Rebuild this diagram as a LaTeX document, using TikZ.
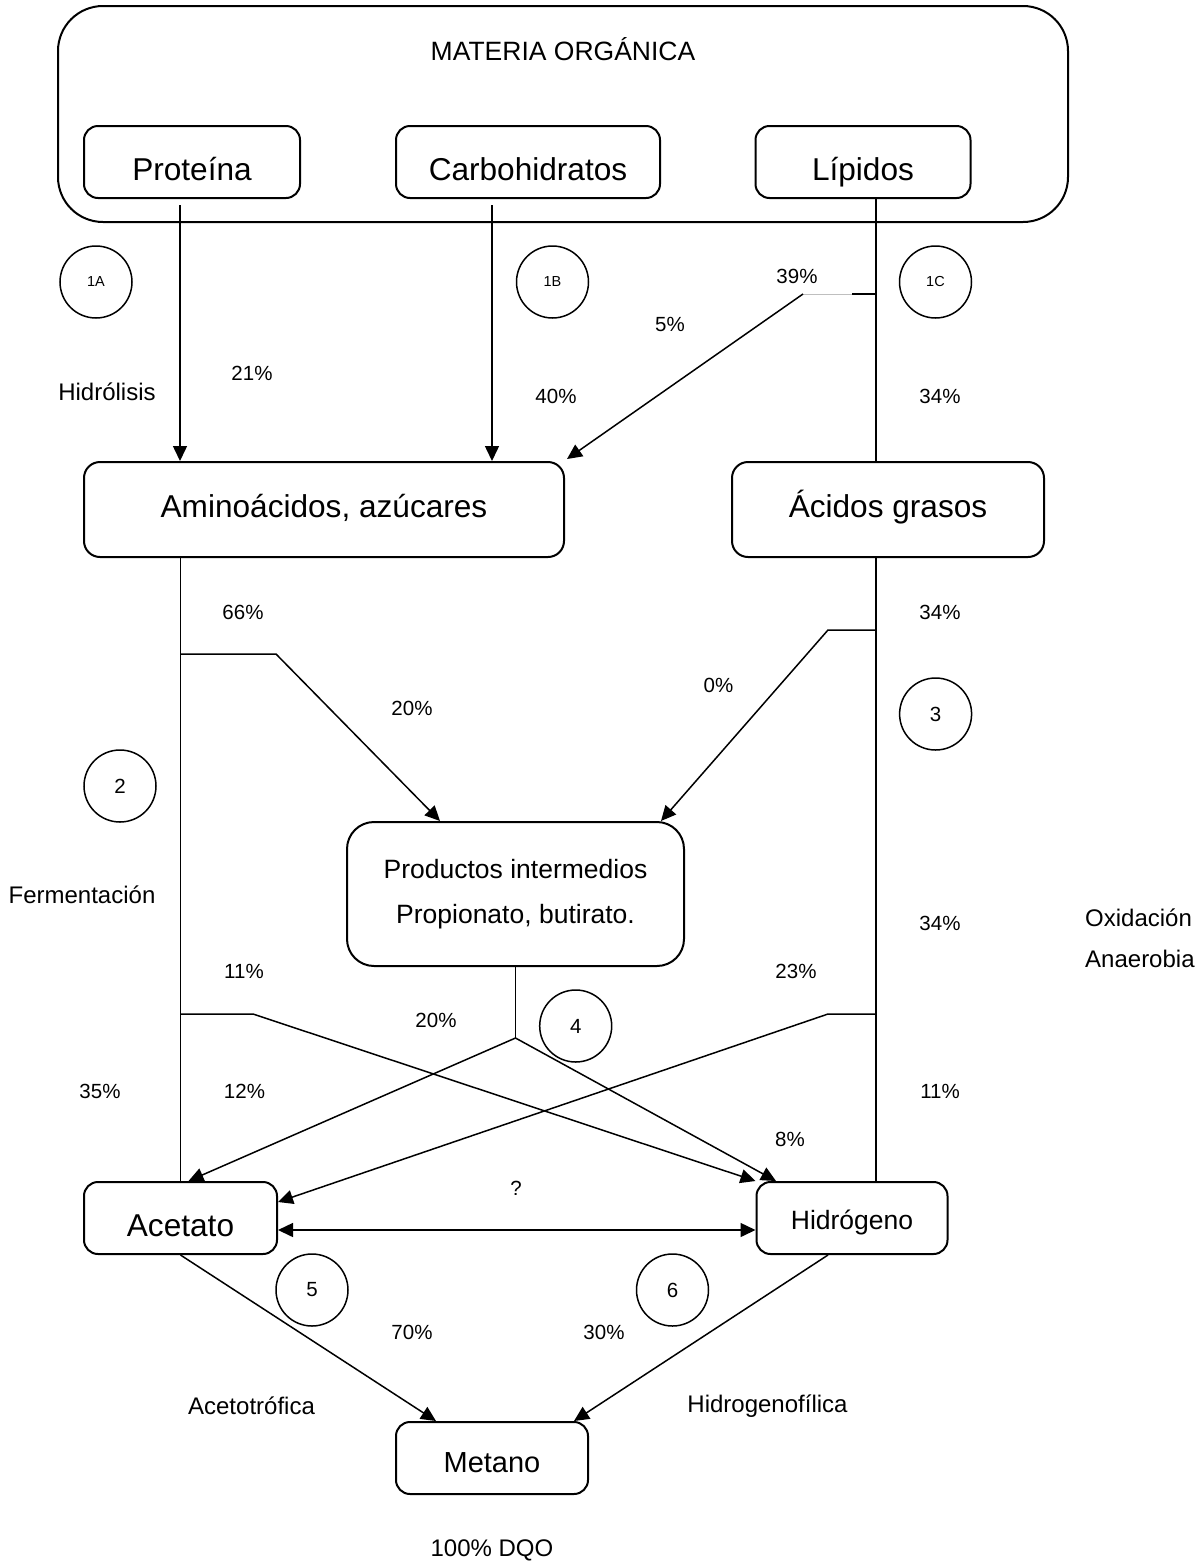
\documentclass[tikz,border=0pt]{standalone}
\usepackage{fontspec}
\setmainfont{Liberation Sans}
\usetikzlibrary{arrows.meta}

\begin{document}
\begin{tikzpicture}[x=1pt,y=-1pt]
\tikzset{edge/.style = {-{Triangle[length=15pt,width=14pt]},line width=1.5pt}}
\tikzset{dedge/.style = {{Triangle[length=15pt,width=14pt]}-{Triangle[length=15pt,width=14pt]},line width=1.5pt}}
\tikzset{line/.style = {line width=1.5pt}}
\tikzset{box/.style = {shape=rectangle,draw=black,line width=2pt,rounded corners=14pt,inner sep=0pt,font=\fontsize{31.6pt}{38pt}\selectfont}}
\tikzset{tag/.style = {shape=circle,draw=black,line width=1.5pt,minimum size=72pt,inner sep=0pt,font=\fontsize{20.5pt}{24pt}\selectfont}}
\tikzset{pct/.style = {inner sep=0pt,font=\fontsize{20.5pt}{24pt}\selectfont}}
\tikzset{txt/.style = {inner sep=0pt,font=\fontsize{24pt}{29pt}\selectfont}}

\useasboundingbox (0,0) rectangle (1199,1564);

\node[box,minimum width=1010pt,minimum height=216pt,rounded corners=45pt] (MO) at (563,114) {};
\node[anchor=base,font=\fontsize{26.5pt}{32pt}\selectfont] (MOt) at (563,60) {MATERIA ORGÁNICA};
\node[box,minimum width=216pt,minimum height=72pt,text height=36pt,text depth=0pt] (Prot) at (192,162) {Proteína};
\node[box,minimum width=264pt,minimum height=72pt,text height=36pt,text depth=0pt] (Carb) at (528,162) {Carbohidratos};
\node[box,minimum width=215pt,minimum height=72pt,text height=36pt,text depth=0pt] (Lip) at (863,162) {Lípidos};

\node[box,minimum width=480pt,minimum height=95pt,rounded corners=16pt,text height=22.75pt,text depth=7pt] (Amino) at (324,509.5) {Aminoácidos, azúcares};
\node[box,minimum width=312pt,minimum height=95pt,rounded corners=16pt,text height=22.75pt,text depth=7pt] (Acid) at (888,509.5) {Ácidos grasos};
\node[box,minimum width=337pt,minimum height=144pt,rounded corners=27pt,align=center,font=\fontsize{26.5pt}{45.7pt}\selectfont] (Prod) at (515.5,894) {Productos intermedios\\Propionato, butirato.};
\node[box,minimum width=193pt,minimum height=72pt,text height=36pt,text depth=0pt] (Acet) at (180.5,1218) {Acetato};
\node[box,minimum width=191pt,minimum height=72pt,text height=23pt,text depth=0pt,font=\fontsize{26.5pt}{32pt}\selectfont] (Hidro) at (852,1218) {Hidrógeno};
\node[box,minimum width=192pt,minimum height=72pt,text height=28.8pt,text depth=0pt,font=\fontsize{29pt}{35pt}\selectfont] (Met) at (492,1458) {Metano};

\node[tag,font=\fontsize{14.5pt}{17pt}\selectfont] (T1A) at (96,282) {1A};
\node[tag,font=\fontsize{14.5pt}{17pt}\selectfont] (T1B) at (552.5,282) {1B};
\node[tag,font=\fontsize{14.5pt}{17pt}\selectfont] (T1C) at (935.5,282) {1C};
\node[tag] (T2) at (120,786) {2};
\node[tag] (T3) at (935.6,714) {3};
\node[tag] (T4) at (575.7,1026) {4};
\node[tag] (T5) at (312,1290) {5};
\node[tag] (T6) at (672.5,1290) {6};

\node[pct] (p21) at (252,373) {21\%};
\node[pct] (p40) at (556,396) {40\%};
\node[pct] (p5) at (670,324) {5\%};
\node[pct] (p39) at (797,276) {39\%};
\node[pct] (p34a) at (940,396) {34\%};
\node[pct] (p66) at (243,612.5) {66\%};
\node[pct] (p34b) at (940,612.5) {34\%};
\node[pct] (p20a) at (412,708) {20\%};
\node[pct] (p0) at (718.5,685) {0\%};
\node[pct] (p34c) at (940,923) {34\%};
\node[pct] (p11a) at (244,971) {11\%};
\node[pct] (p23) at (796,971) {23\%};
\node[pct] (p20b) at (436,1020.5) {20\%};
\node[pct] (p35) at (100,1091.5) {35\%};
\node[pct] (p12) at (244.5,1091.5) {12\%};
\node[pct] (p11b) at (940,1091.5) {11\%};
\node[pct] (p8) at (790,1139) {8\%};
\node[pct] (pq) at (516,1188) {?};
\node[pct] (p70) at (412,1332.5) {70\%};
\node[pct] (p30) at (604,1332.5) {30\%};

\node[txt] (Hid) at (107,391.5) {Hidrólisis};
\node[txt] (Fer) at (82,895) {Fermentación};
\node[txt,anchor=west] (Oxi) at (1085,918) {Oxidación};
\node[txt,anchor=west] (Ana) at (1085,959) {Anaerobia};
\node[txt] (Ace) at (251.5,1406) {Acetotrófica};
\node[txt] (Hgf) at (767.5,1406) {Hidrogenofílica};
\node[txt] (DQO) at (492,1550) {100\% DQO};

\draw[edge] ([xshift=-12pt,yshift=-6pt]Prot.south) coordinate (hA) -- (hA |- Amino.north);
\draw[edge] ([xshift=-36pt,yshift=-6pt]Carb.south) coordinate (hB) -- (hB |- Amino.north);
\draw[line] ([xshift=13pt]Lip.south) coordinate (hC) -- (hC |- Acid.north);

\coordinate (bC) at (876,294);
\coordinate (gC) at (852,294);
\coordinate (kC) at (803,294);
\draw[line] (bC) -- (gC);
\draw[line width=0.8pt,gray!50] (gC) -- (kC);
\draw[edge] (kC) -- ([xshift=2pt,yshift=2pt]Amino.north east);

\draw[line] (Acet.north |- Amino.south) -- (Acet.north);
\coordinate (b2a) at (180.5,654);
\coordinate (k2a) at (276,654);
\draw[edge] (b2a) -- (k2a) -- ([xshift=-75.5pt]Prod.north);
\coordinate (b2b) at (180.5,1014);
\coordinate (k2b) at (253,1014);
\draw[edge] (b2b) -- (k2b) -- (Hidro.north west);

\draw[line] ([xshift=-12pt]Acid.south) coordinate (v3) -- (v3 |- Hidro.north);
\coordinate (b3a) at (876,630);
\coordinate (k3a) at (828,630);
\draw[edge] (b3a) -- (k3a) -- ([xshift=145.5pt]Prod.north);
\coordinate (b3b) at (876,1014);
\coordinate (k3b) at (828,1014);
\draw[edge] (b3b) -- (k3b) -- ([yshift=16pt]Acet.east);

\coordinate (b4) at (515.5,1038);
\draw[line] (Prod.south) -- (b4);
\draw[edge] (b4) -- ([xshift=8pt]Acet.north);
\draw[edge] (b4) -- ([xshift=-76pt]Hidro.north);

\draw[dedge] ([yshift=-12pt]Acet.east) -- ([yshift=-12pt]Acet.east -| Hidro.west);

\draw[edge] (Acet.south) -- ([xshift=-56pt]Met.north);
\draw[edge] ([xshift=-24pt]Hidro.south) -- ([xshift=82pt]Met.north);

\end{tikzpicture}
\end{document}
